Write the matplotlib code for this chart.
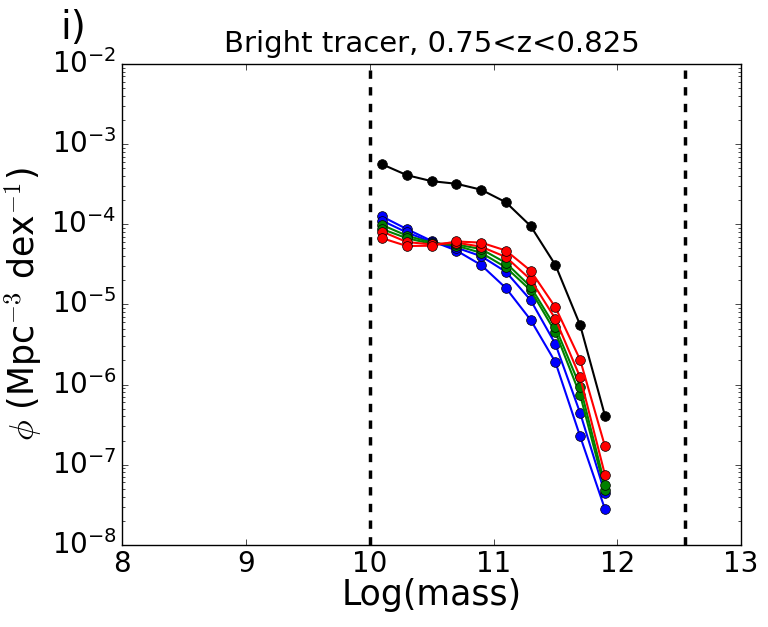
import matplotlib
matplotlib.use('Agg')
import matplotlib.pyplot as plt
import numpy as np

plt.style.use('classic')

logmass = [10.1, 10.3, 10.5, 10.7, 10.9, 11.1, 11.3, 11.5, 11.7, 11.9]

phi_all = [5.6e-4, 4.1e-4, 3.45e-4, 3.2e-4, 2.7e-4, 1.88e-4, 9.5e-5, 3.1e-5, 5.5e-6, 4.1e-7]

phi_blue1 = [1.25e-4, 8.7e-5, 6.2e-5, 4.7e-5, 3.1e-5, 1.6e-5, 6.4e-6, 1.9e-6, 2.25e-7, 2.8e-8]
phi_blue2 = [1.11e-4, 7.9e-5, 6.0e-5, 5.1e-5, 4.0e-5, 2.55e-5, 1.13e-5, 3.2e-6, 4.4e-7, 4.4e-8]
phi_green1 = [9.8e-5, 7.2e-5, 5.9e-5, 5.4e-5, 4.4e-5, 2.9e-5, 1.5e-5, 4.5e-6, 7.4e-7, 4.9e-8]
phi_green2 = [8.7e-5, 6.7e-5, 5.7e-5, 5.6e-5, 4.9e-5, 3.3e-5, 1.66e-5, 5.2e-6, 9.4e-7, 5.6e-8]
phi_red1 = [8.1e-5, 6.0e-5, 5.6e-5, 5.9e-5, 5.25e-5, 3.9e-5, 2.04e-5, 6.6e-6, 1.23e-6, 7.5e-8]
phi_red2 = [6.7e-5, 5.35e-5, 5.4e-5, 6.1e-5, 5.9e-5, 4.7e-5, 2.63e-5, 9.2e-6, 2.03e-6, 1.7e-7]

mass_cuts = [10.0, 12.55]

fig = plt.figure(figsize=(7.68, 6.27), dpi=100, facecolor='white')
ax = fig.add_axes([0.159, 0.131, 0.806, 0.767])

series = [(phi_blue1, 'b'), (phi_blue2, 'b'), (phi_green1, 'g'), (phi_green2, 'g'),
          (phi_red1, 'r'), (phi_red2, 'r'), (phi_all, 'k')]
for vals, col in series:
    ax.plot(logmass, vals, '-o', color=col, mfc=col, mec='k', lw=1.5, ms=7)

for xc in mass_cuts:
    ax.axvline(xc, color='k', ls='--', lw=2.5)

ax.set_yscale('log')
ax.set_xlim(8, 13)
ax.set_ylim(1e-8, 1e-2)
ax.tick_params(labelsize=20)
ax.set_xlabel('Log(mass)', fontsize=25, labelpad=0)
ax.set_ylabel(r'$\phi$ (Mpc$^{-3}$ dex$^{-1}$)', fontsize=25)
ax.set_title('Bright tracer, 0.75<z<0.825', fontsize=21, y=1.01)
fig.text(0.078, 0.938, 'i)', fontsize=28)

fig.savefig('out.png', dpi=100, facecolor='white')
